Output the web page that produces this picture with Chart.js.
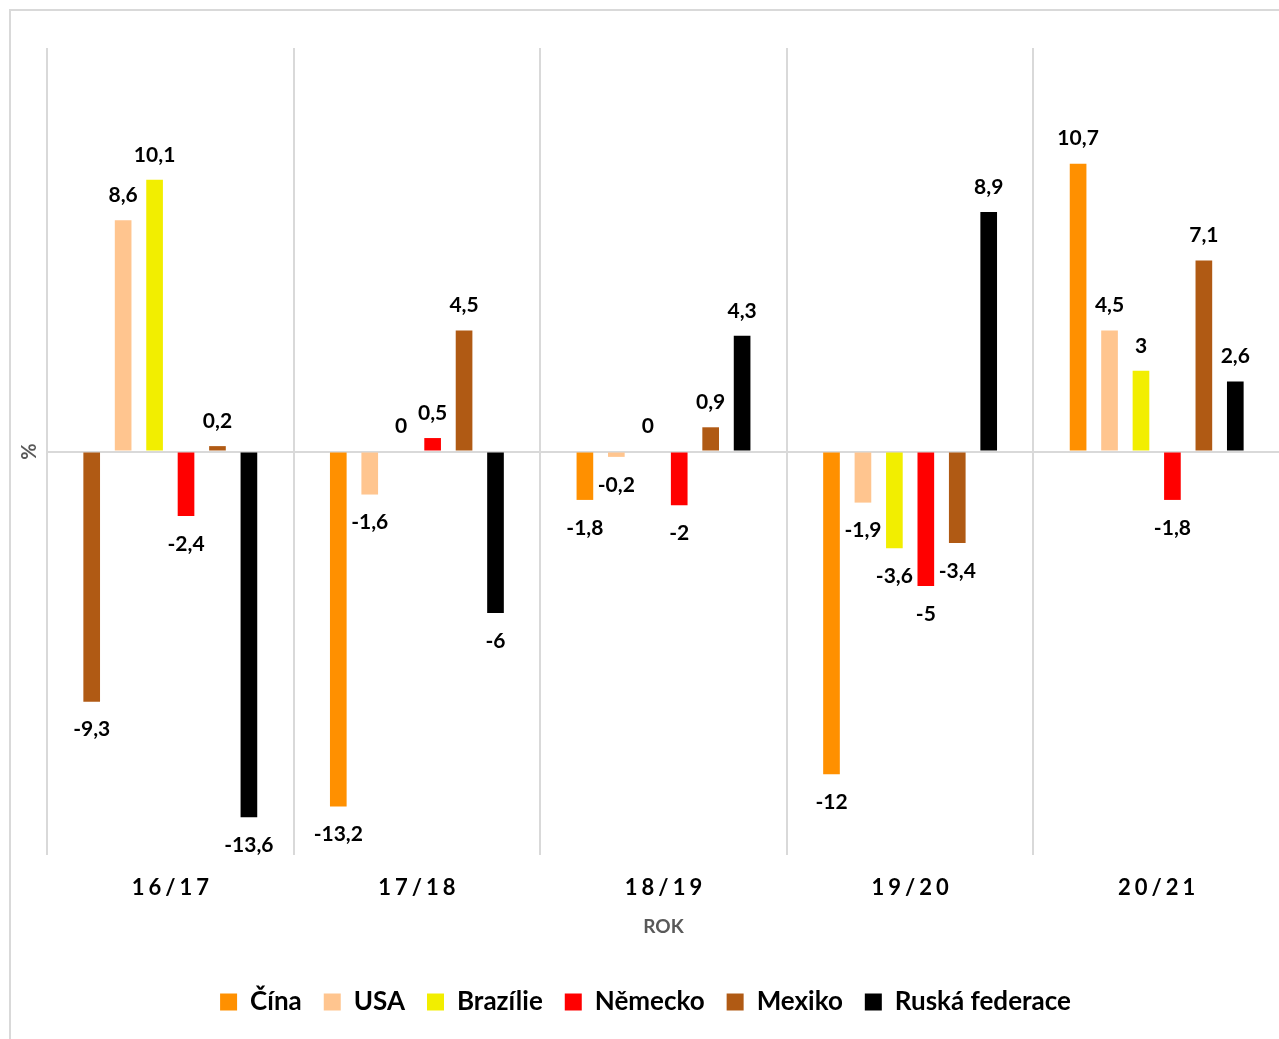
<!DOCTYPE html>
<html lang="cs">
<head>
<meta charset="utf-8">
<title>Meziroční změna (%)</title>
<script src="https://cdn.jsdelivr.net/npm/chart.js@4.4.1/dist/chart.umd.min.js"></script>
<style>
  html, body { margin: 0; padding: 0; background: #fff; overflow: hidden; width: 1279px; height: 1039px; }
  #wrap {
    position: absolute; left: 9px; top: 9px;
    width: 1290px; height: 1040px;
    border: 2px solid #d9d9d9;
  }
  #chart { display: block; }
</style>
</head>
<body>
<div id="wrap"><canvas id="chart" width="1290" height="1040" style="width:1290px;height:1040px"></canvas></div>
<script>
  const categories = ['16/17', '17/18', '18/19', '19/20', '20/21'];
  const cina = [-9.3, -13.2, -1.8, -12, 10.7];
  const usa = [8.6, -1.6, -0.2, -1.9, 4.5];
  const brazilie = [10.1, 0, 0, -3.6, 3];
  const nemecko = [-2.4, 0.5, -2, -5, -1.8];
  const mexiko = [0.2, 4.5, 0.9, -3.4, 7.1];
  const ruska = [-13.6, -6, 4.3, 8.9, 2.6];

  const ORANGE = '#FF9000';
  const BROWN = '#B05A14';
  const GRID = '#d9d9d9';

  Chart.defaults.font.family = 'Lato, "Noto Sans", sans-serif';

  function formatCz(v) {
    return String(v).replace('.', ',');
  }

  // popisky hodnot nad / pod sloupci
  const valueLabels = {
    id: 'valueLabels',
    afterDatasetsDraw(chart) {
      const ctx = chart.ctx;
      ctx.save();
      ctx.font = 'bold 21px Lato, "Noto Sans", sans-serif';
      ctx.fillStyle = '#000';
      ctx.textAlign = 'center';
      ctx.textBaseline = 'middle';
      chart.data.datasets.forEach((ds, i) => {
        const meta = chart.getDatasetMeta(i);
        meta.data.forEach((bar, j) => {
          const v = ds.data[j];
          const y = v >= 0 ? bar.y - 25 : bar.y + 28;
          ctx.fillText(formatCz(v), bar.x, y);
        });
      });
      ctx.restore();
    }
  };

  // popisky osy x s prostrkáním
  const spacedTicks = {
    id: 'spacedTicks',
    afterDraw(chart) {
      const x = chart.scales.x;
      const ctx = chart.ctx;
      ctx.save();
      ctx.font = 'bold 22px Lato, "Noto Sans", sans-serif';
      ctx.fillStyle = '#000';
      ctx.textAlign = 'center';
      ctx.textBaseline = 'middle';
      ctx.letterSpacing = '4px';
      categories.forEach((c, i) => {
        ctx.fillText(c, x.getPixelForTick(i) + 2, x.top + 33);
      });
      ctx.restore();
    }
  };

  new Chart(document.getElementById('chart'), {
    type: 'bar',
    data: {
      labels: categories,
      datasets: [
        { label: 'Čína', data: cina, backgroundColor: (c) => (c.dataIndex === 0 ? BROWN : ORANGE) },
        { label: 'USA', data: usa, backgroundColor: '#FFC58F' },
        { label: 'Brazílie', data: brazilie, backgroundColor: '#F2EE00' },
        { label: 'Německo', data: nemecko, backgroundColor: '#FF0000' },
        { label: 'Mexiko', data: mexiko, backgroundColor: BROWN },
        { label: 'Ruská federace', data: ruska, backgroundColor: '#000000' }
      ]
    },
    options: {
      responsive: false,
      animation: false,
      layout: { padding: { top: 37, right: 21, left: 0, bottom: 26 } },
      datasets: {
        bar: { categoryPercentage: 0.765, barPercentage: 0.53 }
      },
      plugins: {
        tooltip: { enabled: false },
        legend: {
          position: 'bottom',
          labels: {
            boxWidth: 17,
            boxHeight: 17,
            padding: 22,
            color: '#000',
            font: { size: 26, weight: 'bold' },
            generateLabels(chart) {
              const items = Chart.defaults.plugins.legend.labels.generateLabels(chart);
              items.forEach((it) => {
                if (it.datasetIndex === 0) {
                  it.fillStyle = ORANGE;
                  it.strokeStyle = ORANGE;
                }
              });
              return items;
            }
          }
        }
      },
      scales: {
        x: {
          grid: { color: GRID, lineWidth: 2, drawTicks: false, offset: true },
          border: { display: false },
          ticks: { color: 'rgba(0,0,0,0)', font: { size: 22, weight: 'bold' } },
          title: {
            display: true,
            text: 'ROK',
            color: '#595959',
            font: { size: 19, weight: 'bold' },
            padding: { top: 0, bottom: 28.6 }
          },
          afterFit: (s) => { s.height = 112; }
        },
        y: {
          min: -15,
          max: 15,
          ticks: { display: false, stepSize: 5 },
          grid: {
            drawTicks: false,
            lineWidth: 2,
            color: (c) => (c.tick && c.tick.value === 0 ? GRID : 'rgba(0,0,0,0)')
          },
          border: { display: false },
          title: {
            display: true,
            text: '%',
            color: '#595959',
            font: { size: 20, weight: 'bold' },
            padding: { top: 7, bottom: 0 }
          },
          afterFit: (s) => { s.width = 36; }
        }
      }
    },
    plugins: [valueLabels, spacedTicks]
  });
</script>
</body>
</html>
